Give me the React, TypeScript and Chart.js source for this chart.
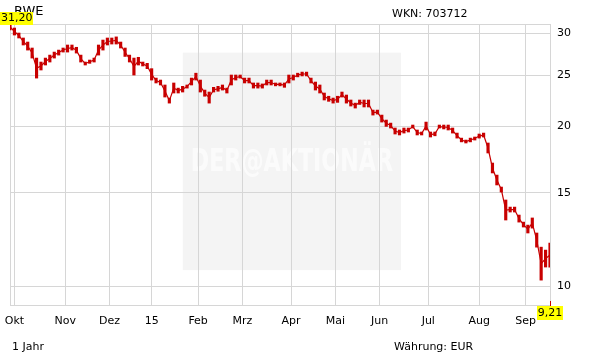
import React, { useEffect, useRef } from 'react';
import { Chart, registerables } from 'chart.js';

Chart.register(...registerables);

// trading-day step between bars
const STEP = 2;
const highs = [
  31.2, 30.66, 30.0, 29.36, 28.85, 28.11, 26.91, 26.45, 26.91, 27.26, 27.62, 27.86, 28.11, 28.48, 28.48, 28.2,
  27.26, 26.45, 26.68, 26.91, 28.48, 29.1, 29.36, 29.36, 29.5, 28.85, 28.11, 27.26, 26.91, 27.0, 26.45, 26.3,
  25.7, 24.67, 24.46, 23.94, 22.62, 24.15, 23.62, 23.8, 23.94, 24.67, 25.2, 24.46, 23.42, 23.22, 23.7, 23.8,
  23.94, 23.62, 25.0, 25.0, 25.0, 24.67, 24.67, 24.15, 24.15, 24.05, 24.46, 24.46, 24.15, 24.15, 24.15, 25.0,
  25.0, 25.2, 25.32, 25.32, 24.67, 24.25, 23.94, 23.12, 22.8, 22.62, 22.8, 23.22, 22.92, 22.43, 22.13, 22.43,
  22.43, 22.43, 21.47, 21.47, 21.01, 20.56, 20.29, 19.86, 19.69, 19.86, 19.86, 20.12, 19.69, 19.52, 20.38, 19.52,
  19.52, 20.12, 20.12, 20.12, 19.86, 19.43, 19.01, 18.85, 19.01, 19.1, 19.35, 19.43, 18.61, 17.06, 16.19, 15.37,
  14.53, 14.09, 14.09, 13.61, 13.2, 13.03, 13.44, 12.59, 11.84, 11.69, 12.05,
];
const lows = [
  30.4, 29.74, 29.36, 28.48, 27.86, 26.91, 24.67, 25.55, 26.11, 26.45, 26.91, 27.26, 27.62, 27.62, 27.86, 27.5,
  26.45, 26.11, 26.3, 26.45, 27.26, 27.86, 28.48, 28.6, 28.6, 28.11, 27.1, 26.45, 25.0, 26.11, 26.0, 25.7,
  24.46, 24.15, 23.94, 22.72, 22.13, 23.12, 23.12, 23.22, 23.62, 23.94, 24.46, 23.22, 22.8, 22.13, 23.22, 23.3,
  23.42, 23.12, 23.94, 24.46, 24.67, 24.15, 24.15, 23.62, 23.62, 23.62, 23.94, 23.94, 23.85, 23.85, 23.7, 24.15,
  24.46, 24.8, 24.9, 24.9, 24.15, 23.42, 23.12, 22.43, 22.3, 22.13, 22.2, 22.72, 22.13, 21.85, 21.66, 22.0,
  21.76, 21.76, 21.01, 21.1, 20.38, 20.0, 19.86, 19.35, 19.27, 19.43, 19.52, 19.86, 19.27, 19.27, 19.69, 19.1,
  19.2, 19.86, 19.78, 19.69, 19.43, 19.01, 18.7, 18.61, 18.7, 18.85, 19.01, 19.1, 17.82, 16.34, 15.51, 15.04,
  13.32, 13.79, 13.79, 13.2, 12.92, 12.59, 12.86, 11.84, 10.26, 10.86, 10.86,
];
const monthLabels = ['Okt', 'Nov', 'Dez', '15', 'Feb', 'Mrz', 'Apr', 'Mai', 'Jun', 'Jul', 'Aug', 'Sep'];
const monthIndex = [2, 25, 45, 64, 85, 105, 127, 147, 167, 189, 212, 233];
const yTicks = [10, 15, 20, 25, 30];
const firstPrice = 31.2;
const lastPrice = 9.21;
const lastIndex = 244;
const title = 'RWE';
const wkn = 'WKN: 703712';
const period = '1 Jahr';
const currency = 'Währung: EUR';
const watermark = 'DER@AKTIONÄR';

const RED = '#c80000';
const GRID = '#d6d6d6';
const FONT = 'DejaVu Sans';

const fmt = (v: number) => v.toFixed(2).replace('.', ',');

const decor = {
  id: 'decor',
  beforeDraw(chart: any) {
    const { ctx, chartArea: a } = chart;
    const w = a.right - a.left;
    const h = a.bottom - a.top;
    const x1 = a.left + w * 0.32;
    const x2 = a.left + w * 0.724;
    const y1 = a.top + h * 0.102;
    const y2 = a.top + h * 0.876;
    ctx.save();
    ctx.fillStyle = '#f4f4f4';
    ctx.fillRect(x1, y1, x2 - x1, y2 - y1);
    ctx.font = `bold 32px "DejaVu Sans Condensed", "${FONT}"`;
    ctx.fillStyle = '#fbfbfb';
    ctx.textAlign = 'center';
    ctx.textBaseline = 'middle';
    ctx.fillText(watermark, (x1 + x2) / 2, a.top + h * 0.495, (x2 - x1) - 16);
    ctx.restore();
  },
  afterDraw(chart: any) {
    const { ctx } = chart;
    const xs = chart.scales.x;
    const ys = chart.scales.y;
    ctx.save();
    ctx.fillStyle = '#000';
    ctx.textBaseline = 'middle';
    ctx.textAlign = 'left';
    ctx.font = `13px "${FONT}"`;
    ctx.fillText(title, 14, 12);
    ctx.font = `11px "${FONT}"`;
    ctx.fillText(wkn, 392, 14);
    ctx.fillText(period, 12, 347);
    ctx.fillText(currency, 394, 347);

    // first price label
    const yTop = ys.getPixelForValue(firstPrice);
    ctx.fillStyle = '#ffff00';
    ctx.fillRect(0, yTop - 12, 33, 13);
    ctx.fillStyle = '#000';
    ctx.fillText(fmt(firstPrice), 1, yTop - 5.5);

    // last price label
    const xe = xs.getPixelForValue(lastIndex);
    const yb = ys.getPixelForValue(lastPrice);
    ctx.strokeStyle = RED;
    ctx.lineWidth = 1;
    ctx.beginPath();
    ctx.moveTo(Math.round(xe) + 0.5, yb - 4);
    ctx.lineTo(Math.round(xe) + 0.5, yb + 1);
    ctx.stroke();
    ctx.fillStyle = '#ffff00';
    ctx.fillRect(xe - 13, yb + 1, 26, 14);
    ctx.fillStyle = '#000';
    ctx.textAlign = 'center';
    ctx.fillText(fmt(lastPrice), xe, yb + 8.5);
    ctx.restore();
  },
};

export default function App() {
  const ref = useRef<HTMLCanvasElement>(null);
  useEffect(() => {
    if (!ref.current) return;
    const barData = highs.map((h, i) => ({ x: i * STEP, y: [lows[i], h] }));
    const midData = highs.map((h, i) => ({ x: i * STEP, y: Math.sqrt(h * lows[i]) }));
    const chart = new Chart(ref.current, {
      type: 'bar',
      data: {
        datasets: [
          {
            type: 'bar',
            data: barData as any,
            backgroundColor: RED,
            borderWidth: 0,
            barThickness: 2.5,
            grouped: false,
          } as any,
          {
            type: 'line',
            data: midData as any,
            borderColor: RED,
            borderWidth: 1.2,
            pointRadius: 0,
            tension: 0,
          } as any,
        ],
      },
      options: {
        animation: false,
        responsive: false,
        maintainAspectRatio: false,
        layout: { padding: { left: 10, top: 24, right: 0, bottom: 0 } },
        plugins: { legend: { display: false }, tooltip: { enabled: false } },
        scales: {
          x: {
            type: 'linear',
            min: 0,
            max: lastIndex,
            offset: false,
            afterBuildTicks: (s: any) => {
              s.ticks = [0, ...monthIndex, lastIndex].map((v) => ({ value: v }));
            },
            afterFit: (s: any) => {
              s.height = 59;
            },
            ticks: {
              autoSkip: false,
              maxRotation: 0,
              padding: 10,
              color: '#000',
              font: { family: FONT, size: 11 },
              callback: (v: any) => {
                const k = monthIndex.indexOf(Number(v));
                return k >= 0 ? monthLabels[k] : '';
              },
            },
            grid: { color: GRID, drawTicks: false, offset: false },
            border: { color: GRID },
          },
          y: {
            type: 'logarithmic',
            position: 'right',
            min: lastPrice,
            max: firstPrice,
            afterBuildTicks: (s: any) => {
              s.ticks = [lastPrice, ...yTicks, firstPrice].map((v) => ({ value: v }));
            },
            afterFit: (s: any) => {
              s.width = 61;
            },
            ticks: {
              padding: 7,
              color: '#000',
              font: { family: FONT, size: 11 },
              callback: (v: any) => (yTicks.includes(Number(v)) ? String(v) : ''),
            },
            grid: { color: GRID, drawTicks: false },
            border: { color: GRID },
          },
        },
      } as any,
      plugins: [decor],
    });
    return () => chart.destroy();
  }, []);
  return (
    <div style={{ position: 'absolute', left: 0, top: 0, width: 611, height: 364, background: '#fff' }}>
      <canvas ref={ref} width={611} height={364} style={{ width: 611, height: 364, display: 'block' }} />
    </div>
  );
}
